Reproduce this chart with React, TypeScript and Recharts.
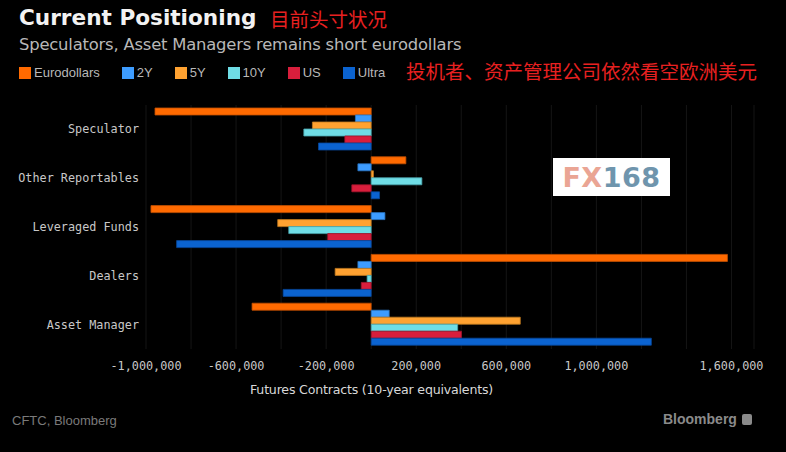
import React from "react";
import { BarChart, Bar, XAxis, YAxis, CartesianGrid } from "recharts";

const categories = ["Speculator", "Other Reportables", "Leveraged Funds", "Dealers", "Asset Manager"];
const seriesNames = ["Eurodollars", "2Y", "5Y", "10Y", "US", "Ultra"];
const eurodollars = [-960000, 154000, -978000, 1582000, -529000];
const twoY = [-70000, -59000, 61000, -59000, 80000];
const fiveY = [-261000, 10000, -415000, -160000, 662000];
const tenY = [-299000, 225000, -366000, -18000, 384000];
const us = [-117000, -86000, -193000, -44000, 401000];
const ultra = [-234000, 37000, -864000, -391000, 1244000];
const gridTicks = [-1000000, -800000, -600000, -400000, -200000, 0, 200000, 400000, 600000, 800000, 1000000, 1200000, 1400000, 1600000];
const labeledTicks = [-1000000, -600000, -200000, 200000, 600000, 1000000, 1600000];

const colors = ["#ff6a00", "#3d9cff", "#ffa231", "#6fdde6", "#d81e3c", "#0b63d0"];
const strokes = ["#c24f00", "#2a74c0", "#c07a20", "#4aa6ad", "#a0152c", "#08479a"];
const seriesValues = [eurodollars, twoY, fiveY, tenY, us, ultra];

const data = categories.map((c, i) => {
  const row: Record<string, string | number> = { name: c };
  seriesNames.forEach((s, j) => {
    row[s] = seriesValues[j][i];
  });
  return row;
});

const mono = "'DejaVu Sans Mono', monospace";

const XTick = (props: any) => {
  const { x, y, payload } = props;
  if (!labeledTicks.includes(payload.value)) return null;
  return (
    <text x={x} y={y} dy={13} textAnchor="middle" fill="#c8c8c8" fontFamily={mono} fontSize={11.8}>
      {payload.value.toLocaleString("en-US")}
    </text>
  );
};

const YTick = (props: any) => {
  const { x, y, payload } = props;
  return (
    <text x={x} y={y} dy={4} textAnchor="end" fill="#c8c8c8" fontFamily={mono} fontSize={11.8}>
      {payload.value}
    </text>
  );
};

export default function App() {
  return (
    <div
      style={{
        position: "fixed",
        left: 0,
        top: 0,
        width: 786,
        height: 452,
        background: "#000",
        overflow: "hidden",
        fontFamily: "'DejaVu Sans', sans-serif",
      }}
    >
      <div style={{ position: "absolute", left: 19, top: 5, color: "#f2f2f2", fontWeight: 700, fontSize: 21.6, fontFamily: "'DejaVu Sans', sans-serif", whiteSpace: "nowrap" }}>
        Current Positioning
      </div>
      <div style={{ position: "absolute", left: 270, top: 7, color: "#e82020", fontSize: 19.5, fontFamily: "'Noto Sans CJK SC', sans-serif", lineHeight: "24px", whiteSpace: "nowrap" }}>
        目前头寸状况
      </div>
      <div style={{ position: "absolute", left: 19, top: 35, color: "#b8b8b8", fontSize: 16.4, fontFamily: "'DejaVu Sans', sans-serif", whiteSpace: "nowrap", letterSpacing: -0.2 }}>
        Speculators, Asset Managers remains short eurodollars
      </div>
      <div style={{ position: "absolute", left: 406, top: 58, color: "#e82020", fontSize: 19.5, fontFamily: "'Noto Sans CJK SC', sans-serif", lineHeight: "26px", whiteSpace: "nowrap" }}>
        投机者、资产管理公司依然看空欧洲美元
      </div>
      <div style={{ position: "absolute", left: 19, top: 67, display: "flex", alignItems: "center", whiteSpace: "nowrap" }}>
        {seriesNames.map((s, i) => (
          <div key={s} style={{ display: "flex", alignItems: "center", marginRight: 22 }}>
            <div style={{ width: 12, height: 12, background: colors[i], marginRight: 3 }} />
            <span style={{ color: "#b8b8b8", fontSize: 13, fontFamily: "'Liberation Sans', sans-serif", lineHeight: "12px" }}>{s}</span>
          </div>
        ))}
      </div>

      <div style={{ position: "absolute", left: 0, top: 0 }}>
        <BarChart
          width={786}
          height={452}
          data={data}
          layout="vertical"
          margin={{ top: 105, right: 32, bottom: 73, left: 0 }}
          barCategoryGap={3}
          barGap={0}
        >
          <CartesianGrid horizontal={false} vertical={true} stroke="#151515" />
          <XAxis
            type="number"
            domain={[-1000000, 1700000]}
            ticks={gridTicks}
            interval={0}
            tickLine={false}
            axisLine={false}
            tickSize={0}
            tickMargin={8}
            height={30}
            tick={<XTick />}
            allowDataOverflow
          />
          <YAxis
            type="category"
            dataKey="name"
            width={146}
            tickLine={false}
            axisLine={false}
            tickSize={0}
            tickMargin={7}
            interval={0}
            tick={<YTick />}
          />
          {seriesNames.map((s, i) => (
            <Bar key={s} dataKey={s} fill={colors[i]} stroke={strokes[i]} strokeWidth={0.8} isAnimationActive={false} />
          ))}
        </BarChart>
      </div>

      <div style={{ position: "absolute", left: 250, top: 382, color: "#d8d8d8", fontSize: 12.6, fontFamily: "'DejaVu Sans', sans-serif", whiteSpace: "nowrap", letterSpacing: -0.2 }}>
        Futures Contracts (10-year equivalents)
      </div>
      <div style={{ position: "absolute", left: 12, top: 413, color: "#7a7a7a", fontSize: 13, fontFamily: "'Liberation Sans', sans-serif", whiteSpace: "nowrap" }}>
        CFTC, Bloomberg
      </div>
      <div style={{ position: "absolute", left: 663, top: 411, color: "#8a8a8a", fontSize: 14, fontWeight: 700, fontFamily: "'Liberation Sans', sans-serif", whiteSpace: "nowrap", display: "flex", alignItems: "center" }}>
        Bloomberg
        <span style={{ display: "inline-block", width: 10, height: 11, background: "#8a8a8a", marginLeft: 5, borderRadius: 2 }} />
      </div>
      <div
        style={{
          position: "absolute",
          left: 553,
          top: 158,
          width: 117,
          height: 38,
          background: "#ffffff",
          display: "flex",
          alignItems: "center",
          justifyContent: "center",
          fontFamily: "'DejaVu Sans', sans-serif",
          fontWeight: 700,
          fontSize: 27,
          letterSpacing: 0.5,
        }}
      >
        <span style={{ color: "#eaa594" }}>FX</span>
        <span style={{ color: "#6f95ad" }}>168</span>
      </div>
    </div>
  );
}
